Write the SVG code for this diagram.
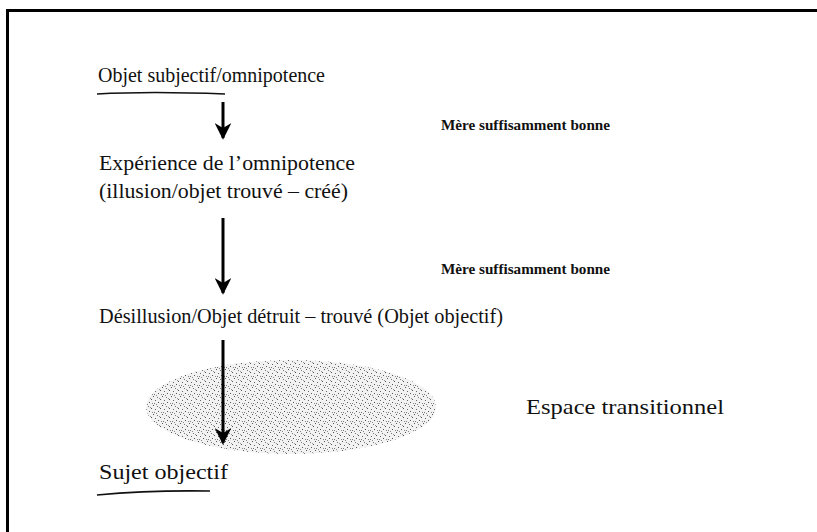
<svg xmlns="http://www.w3.org/2000/svg" width="817" height="532" viewBox="0 0 817 532">
<style>
.t{font-family:"Liberation Serif","DejaVu Serif",serif;font-size:21px;fill:#111}
.s{font-family:"Liberation Serif","DejaVu Serif",serif;font-size:14px;font-weight:bold;fill:#111}
.c{stroke:#000;stroke-width:3;fill:none}
.u{stroke:#111;stroke-width:1.6;fill:none}
</style>
<defs>
<marker id="ah" viewBox="0 0 10 10" refX="9" refY="5" markerWidth="5.5" markerHeight="5.5" markerUnits="strokeWidth" orient="auto">
<path d="M0,0 L10,5 L0,10 L3,5 Z" fill="#000"/>
</marker>
<pattern id="dots" width="9" height="9" patternUnits="userSpaceOnUse">
<rect width="9" height="9" fill="#f2f2f2"/>
<rect x="0" y="0" width="1" height="1" fill="#555"/>
<rect x="4" y="1" width="1" height="1" fill="#777"/>
<rect x="7" y="3" width="1" height="1" fill="#555"/>
<rect x="2" y="4" width="1" height="1" fill="#666"/>
<rect x="5" y="6" width="1" height="1" fill="#555"/>
<rect x="8" y="7" width="1" height="1" fill="#888"/>
<rect x="1" y="7" width="1" height="1" fill="#777"/>
<rect x="6" y="2" width="1" height="1" fill="#999"/>
<rect x="3" y="8" width="1" height="1" fill="#888"/>
</pattern>
</defs>
<rect width="817" height="532" fill="#fff"/>
<path d="M7.5,532 V10.5 H817" stroke="#000" stroke-width="3" fill="none"/>
<g id="region">
<ellipse cx="291" cy="407" rx="145" ry="47" fill="url(#dots)"/>
</g>
<g id="connectors">
<line class="c" x1="223" y1="102" x2="223" y2="138" marker-end="url(#ah)"/>
<line class="c" x1="223" y1="218" x2="223" y2="293" marker-end="url(#ah)"/>
<line class="c" x1="223" y1="340" x2="223" y2="443" marker-end="url(#ah)"/>
</g>
<g id="n1">
<text class="t" x="98" y="82" style="font-size:20px" textLength="227" lengthAdjust="spacingAndGlyphs">Objet subjectif/omnipotence</text>
<path class="u" d="M97,94 Q150,91 225,94"/>
</g>
<g id="m1"><text class="s" x="441" y="130" textLength="169" lengthAdjust="spacingAndGlyphs">Mère suffisamment bonne</text></g>
<g id="n2">
<text class="t" x="99" y="170" textLength="256" lengthAdjust="spacingAndGlyphs">Expérience de l’omnipotence</text>
<text class="t" x="99" y="198" textLength="249" lengthAdjust="spacingAndGlyphs">(illusion/objet trouvé – créé)</text>
</g>
<g id="m2"><text class="s" x="441" y="274" textLength="169" lengthAdjust="spacingAndGlyphs">Mère suffisamment bonne</text></g>
<g id="n3"><text class="t" x="99" y="323" textLength="404" lengthAdjust="spacingAndGlyphs">Désillusion/Objet détruit – trouvé (Objet objectif)</text></g>
<g id="n4"><text class="t" x="526" y="414" textLength="198" lengthAdjust="spacingAndGlyphs">Espace transitionnel</text></g>
<g id="n5">
<text class="t" x="99" y="479" textLength="129" lengthAdjust="spacingAndGlyphs">Sujet objectif</text>
<path class="u" d="M97,495 Q150,490 210,491"/>
</g>
</svg>
